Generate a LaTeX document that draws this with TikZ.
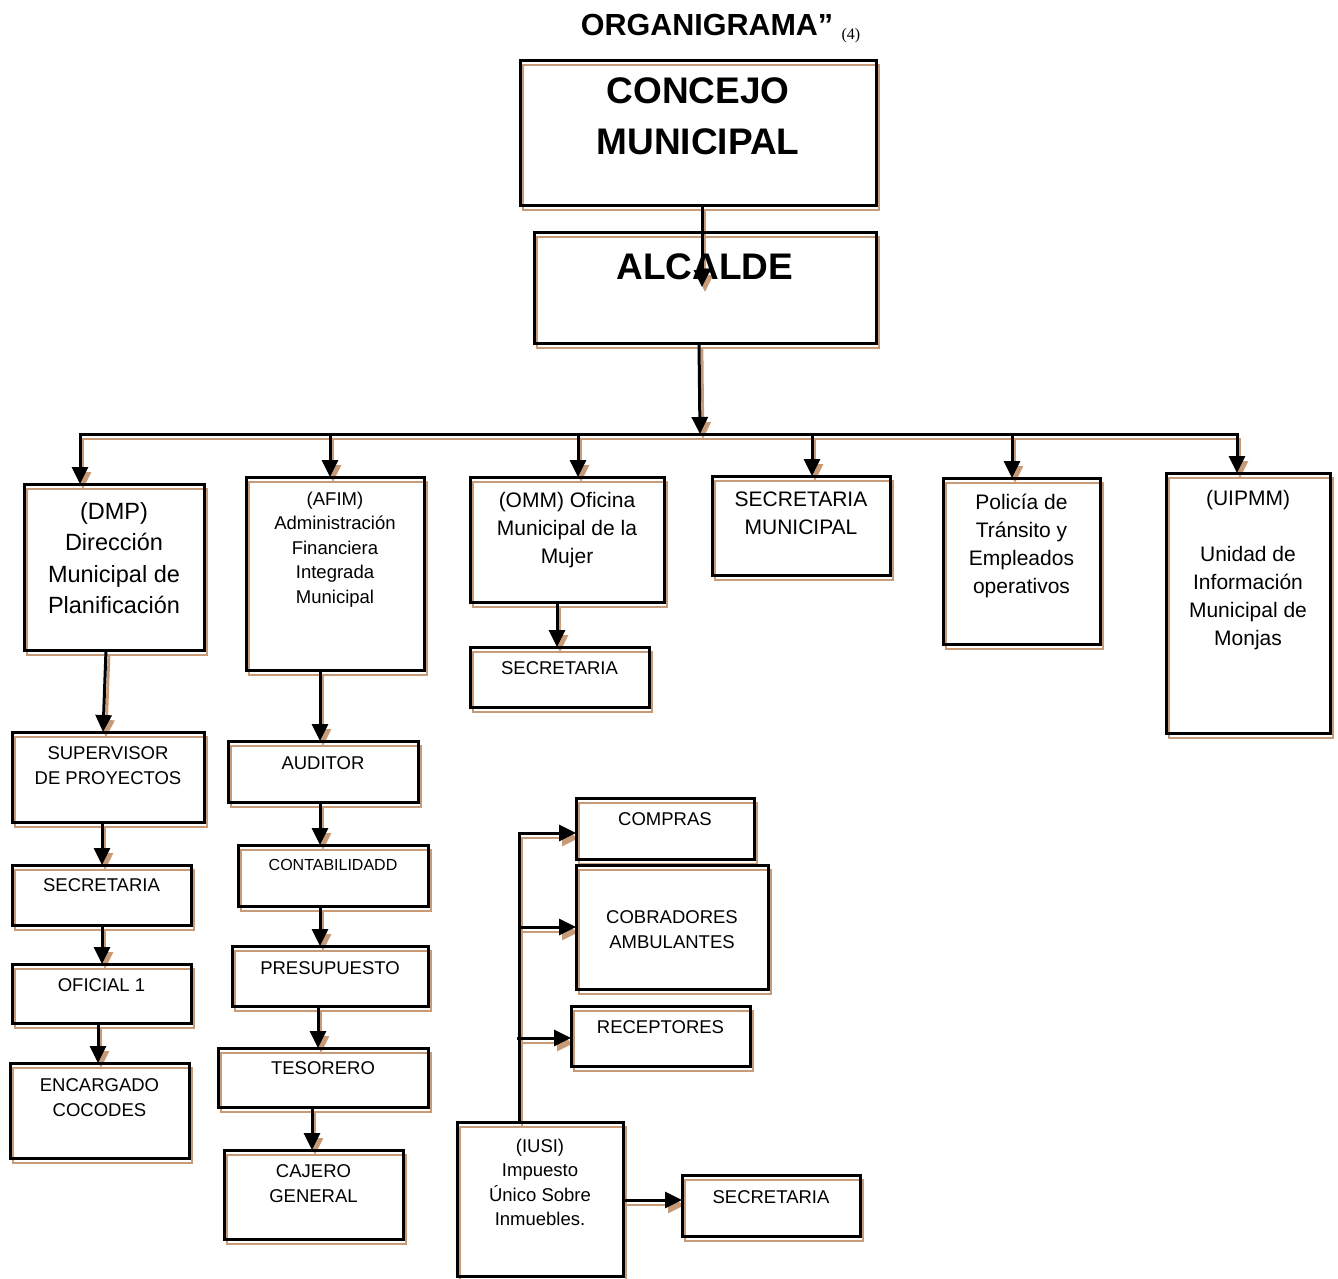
\documentclass[tikz,border=0pt]{standalone}
\usepackage{fontspec}
\setmainfont{Liberation Sans}
\newfontfamily\serifnum{Liberation Serif}
\usetikzlibrary{arrows.meta}
\pgfdeclarelayer{shlayer}
\pgfsetlayers{shlayer,main}
\definecolor{shadowc}{RGB}{200,155,120}
\newcommand\fbig{\bfseries\fontsize{37}{51}\selectfont}
\newcommand\fdmp{\fontsize{23.5}{31.5}\selectfont}
\newcommand\fmid{\fontsize{21}{28}\selectfont}
\newcommand\fnorm{\fontsize{18.5}{24.5}\selectfont}
\newcommand\fsmall{\fontsize{16}{20}\selectfont}
\tikzset{
  boxst/.style={draw=black, line width=3pt, inner sep=0pt, outer sep=0pt, rectangle},
  shbox/.style={draw=shadowc, line width=2.7pt},
  blk/.style={draw=black, line width=3pt, line join=miter, -{Triangle[length=17pt,width=16pt]}},
  shline/.style={draw=shadowc, fill=none, line width=2.7pt, -{Triangle[length=17pt,width=16pt,fill=shadowc]}},
  blkb/.style={draw=black, line width=3pt, {Triangle[length=17pt,width=16pt]}-{Triangle[length=17pt,width=16pt]}},
  shlineb/.style={draw=shadowc, line width=2.7pt, {Triangle[length=17pt,width=16pt]}-{Triangle[length=17pt,width=16pt]}},
  txt/.style={inner sep=0pt, outer sep=0pt, align=center, anchor=north},
}
\newcommand\obox[5]{%
  \begin{pgfonlayer}{shlayer}\draw[shbox] (#2+3,#3+5) rectangle (#4+3,#5+5);\end{pgfonlayer}
  \node[boxst, minimum width={(#4)-(#2)}, minimum height={(#5)-(#3)}] (#1) at ({((#2)+(#4))/2},{((#3)+(#5))/2}) {};
}
\newcommand\myconn[1]{%
  \begin{pgfonlayer}{shlayer}\draw[shline, transform canvas={shift={(3,5)}}] #1;\end{pgfonlayer}
  \draw[blk] #1;
}
\newcommand\myconnb[1]{%
  \begin{pgfonlayer}{shlayer}\draw[shlineb, transform canvas={shift={(3,5)}}] #1;\end{pgfonlayer}
  \draw[blkb] #1;
}
\newcommand\vconn[3]{\coordinate (vx) at (#3,0); \myconn{(vx |- #1.south) -- (vx |- #2.north)}}
\begin{document}
\begin{tikzpicture}[x=1pt,y=-1pt]
\useasboundingbox (0,0) rectangle (1338,1278);

% title
\node[inner sep=0pt, anchor=base, font=\bfseries\fontsize{30.5}{36}\selectfont] (title) at (707,35) {ORGANIGRAMA”};
\node[inner sep=0pt, anchor=base west, font=\serifnum\fontsize{16}{18}\selectfont] (titlen) at ([xshift=8pt,yshift=-4pt]title.base east) {(4)};

% boxes
\obox{concejo}{520}{60}{876}{205}
\obox{alcalde}{534}{232}{876}{343}
\obox{dmp}{24}{484}{204}{650}
\obox{afim}{246}{477}{424}{670}
\obox{omm}{470}{477}{664}{602}
\obox{secmun}{712}{476}{890}{575}
\obox{pol}{943}{478}{1100}{644}
\obox{uip}{1166}{473}{1330}{733}
\obox{ommsec}{470}{647}{649}{707}
\obox{sup}{12}{732}{204}{822}
\obox{dmpsec}{12}{865}{191}{925}
\obox{ofi}{12}{964}{191}{1023}
\obox{enc}{10}{1063}{189}{1158}
\obox{aud}{228}{741}{418}{802}
\obox{cont}{238}{845}{428}{906}
\obox{pres}{232}{946}{428}{1006}
\obox{tes}{218}{1048}{428}{1107}
\obox{caj}{224}{1150}{403}{1239}
\obox{compras}{576}{798}{754}{859}
\obox{cobr}{576}{865}{768}{989}
\obox{recep}{571}{1006}{750}{1066}
\obox{iusi}{457}{1122}{623}{1276}
\obox{iusisec}{682}{1175}{860}{1236}

% texts
\path (concejo.north) ++(0,18) node[txt, font=\fbig] (concejo-t) {CONCEJO\\MUNICIPAL};
\path (alcalde.north) ++(0,22) node[txt, font=\fbig] (alcalde-t) {ALCALDE};
\path (dmp.north) ++(0,18) node[txt, font=\fdmp] (dmp-t) {(DMP)\\Dirección\\Municipal de\\Planificación};
\path (afim.north) ++(0,15) node[txt, font=\fnorm] (afim-t) {(AFIM)\\Administración\\Financiera\\Integrada\\Municipal};
\path (omm.north) ++(0,15) node[txt, font=\fmid] (omm-t) {(OMM) Oficina\\Municipal de la\\Mujer};
\path (secmun.north) ++(0,16) node[txt, font=\fmid] (secmun-t) {SECRETARIA\\MUNICIPAL};
\path (pol.north) ++(0,16) node[txt, font=\fmid] (pol-t) {Policía de\\Tránsito y\\Empleados\\operativos};
\path (uip.north) ++(0,17) node[txt, font=\fmid] (uip-t) {(UIPMM)\\[28pt]Unidad de\\Información\\Municipal de\\Monjas};
\path (ommsec.north) ++(0,15) node[txt, font=\fnorm] (ommsec-t) {SECRETARIA};
\path (sup.north) ++(0,15) node[txt, font=\fnorm] (sup-t) {SUPERVISOR\\DE PROYECTOS};
\path (dmpsec.north) ++(0,14) node[txt, font=\fnorm] (dmpsec-t) {SECRETARIA};
\path (ofi.north) ++(0,15) node[txt, font=\fnorm] (ofi-t) {OFICIAL 1};
\path (enc.north) ++(0,16) node[txt, font=\fnorm] (enc-t) {ENCARGADO\\COCODES};
\path (aud.north) ++(0,16) node[txt, font=\fnorm] (aud-t) {AUDITOR};
\path (cont.north) ++(0,14) node[txt, font=\fsmall] (cont-t) {CONTABILIDADD};
\path (pres.north) ++(0,16) node[txt, font=\fnorm] (pres-t) {PRESUPUESTO};
\path (tes.north) ++(0,14) node[txt, font=\fnorm] (tes-t) {TESORERO};
\path (caj.north) ++(0,15) node[txt, font=\fnorm] (caj-t) {CAJERO\\GENERAL};
\path (compras.north) ++(0,15) node[txt, font=\fnorm] (compras-t) {COMPRAS};
\path (cobr.north) ++(0,46) node[txt, font=\fnorm] (cobr-t) {COBRADORES\\AMBULANTES};
\path (recep.north) ++(0,15) node[txt, font=\fnorm] (recep-t) {RECEPTORES};
\path (iusi.north) ++(0,17) node[txt, font=\fnorm] (iusi-t) {(IUSI)\\Impuesto\\Único Sobre\\Inmuebles.};
\path (iusisec.north) ++(0,16) node[txt, font=\fnorm] (iusisec-t) {SECRETARIA};

% connectors
\myconn{([xshift=4pt]concejo.south) -- ++(0,82)}
\coordinate (busm) at (700,434);
\myconn{([xshift=-6pt]alcalde.south) -- (busm)}
\coordinate (bL) at (80,434);
\coordinate (bR) at (1237,434);
\myconnb{(bL |- dmp.north) -- (bL) -- (bR) -- (bR |- uip.north)}
\coordinate (xa) at (330,434);
\myconn{(xa) -- (xa |- afim.north)}
\coordinate (xo) at (578,434);
\myconn{(xo) -- (xo |- omm.north)}
\coordinate (xs) at (812,434);
\myconn{(xs) -- (xs |- secmun.north)}
\coordinate (xp) at (1012,434);
\myconn{(xp) -- (xp |- pol.north)}

\vconn{omm}{ommsec}{557}
\myconn{([xshift=-8pt]dmp.south) -- ([xshift=-5pt]sup.north)}
\vconn{sup}{dmpsec}{102}
\vconn{dmpsec}{ofi}{102}
\vconn{ofi}{enc}{98}
\vconn{afim}{aud}{320}
\vconn{aud}{cont}{320}
\vconn{cont}{pres}{320}
\vconn{pres}{tes}{318}
\vconn{tes}{caj}{312}

\coordinate (tc) at (519,833);
\myconn{(tc |- iusi.north) -- (tc) -- (tc -| compras.west)}
\coordinate (tc2) at (519,927);
\myconn{(tc2) -- (tc2 -| cobr.west)}
\coordinate (tc3) at (517,1038);
\myconn{(tc3) -- (tc3 -| recep.west)}
\coordinate (ti) at (623,1200);
\myconn{(ti -| iusi.east) -- (ti -| iusisec.west)}
\end{tikzpicture}
\end{document}
